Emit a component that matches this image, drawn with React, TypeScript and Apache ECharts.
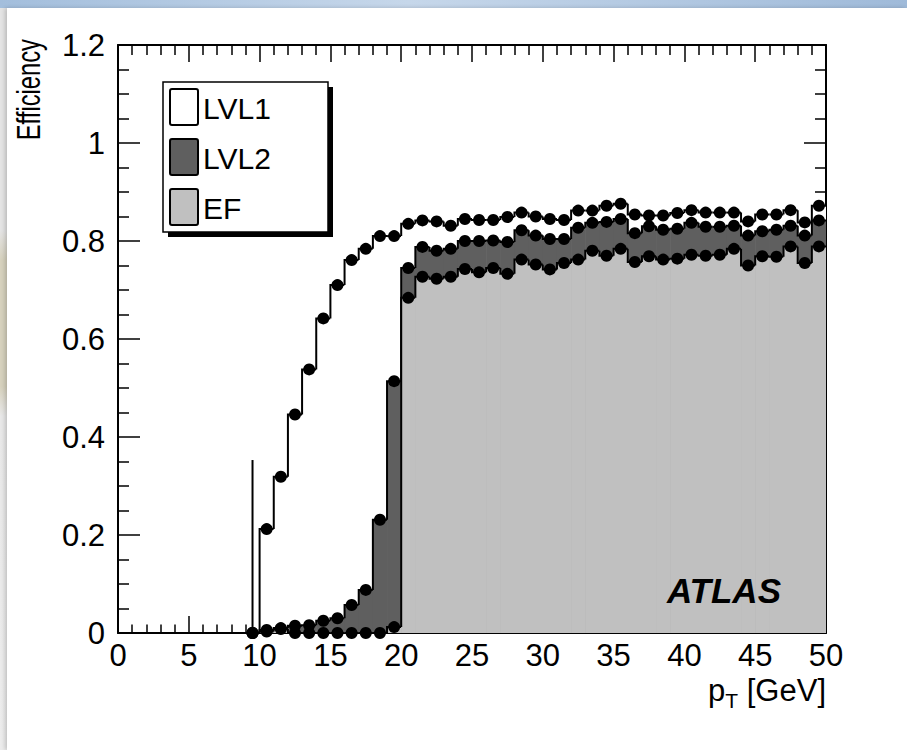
import React, { useEffect, useRef } from "react";
import * as echarts from "echarts";

// Bin edges: 50 bins of 1 GeV from 0 to 50 GeV
const binLow: number[] = Array.from({ length: 50 }, (_, i) => i);
const binWidth = 1;

// Efficiency per bin (null = empty bin, no marker)
const lvl1: (number | null)[] = [
  null, null, null, null, null, null, null, null, null, 0,
  0.212, 0.319, 0.446, 0.538, 0.642, 0.71, 0.761, 0.784, 0.81, 0.81,
  0.835, 0.842, 0.84, 0.831, 0.845, 0.843, 0.843, 0.849, 0.858, 0.85,
  0.845, 0.843, 0.862, 0.862, 0.872, 0.876, 0.854, 0.852, 0.852, 0.857,
  0.863, 0.858, 0.858, 0.858, 0.84, 0.854, 0.854, 0.863, 0.838, 0.872,
];
const lvl2: (number | null)[] = [
  null, null, null, null, null, null, null, null, null, 0,
  0.006, 0.01, 0.015, 0.016, 0.025, 0.03, 0.057, 0.088, 0.231, 0.514,
  0.745, 0.788, 0.78, 0.784, 0.8, 0.8, 0.801, 0.798, 0.822, 0.811,
  0.804, 0.804, 0.827, 0.837, 0.839, 0.845, 0.816, 0.83, 0.823, 0.825,
  0.837, 0.829, 0.829, 0.831, 0.811, 0.82, 0.823, 0.831, 0.811, 0.842,
];
const ef: (number | null)[] = [
  null, null, null, null, null, null, null, null, null, 0,
  0.003, 0.008, 0, 0, 0, 0, 0, 0, 0, 0.012,
  0.684, 0.727, 0.723, 0.727, 0.743, 0.736, 0.745, 0.733, 0.762, 0.752,
  0.742, 0.755, 0.762, 0.78, 0.77, 0.784, 0.757, 0.769, 0.762, 0.764,
  0.772, 0.77, 0.772, 0.784, 0.75, 0.769, 0.768, 0.789, 0.755, 0.789,
];
// Visible error bars: [bin centre, low, high]
const lvl1ErrorBars: number[][] = [[9.5, 0, 0.353]];

const xTicks = { min: 0, max: 50, step: 5 };
const yTicks = { min: 0, max: 1.2, step: 0.2 };

const legendItems = ["LVL1", "LVL2", "EF"];
const FONT = "'Liberation Sans', Arial, Helvetica, sans-serif";

function histData(vals: (number | null)[]) {
  return vals.map((v, i) => [
    binLow[i],
    binLow[i] + binWidth,
    v ?? 0,
    i > 0 ? vals[i - 1] ?? 0 : 0,
  ]);
}

function histSeries(vals: (number | null)[], fill: string, z: number) {
  return {
    type: "custom",
    z,
    clip: true,
    silent: true,
    data: histData(vals),
    encode: { x: [0, 1], y: [2, 3] },
    renderItem: (params: any, api: any) => {
      const lo = api.value(0);
      const hi = api.value(1);
      const v = api.value(2);
      const prev = api.value(3);
      const b = api.coord([lo, 0]);
      const t = api.coord([hi, v]);
      const pPrev = api.coord([lo, prev]);
      const pLo = api.coord([lo, v]);
      return {
        type: "group",
        children: [
          {
            type: "rect",
            shape: { x: b[0], y: t[1], width: t[0] - b[0] + 0.6, height: b[1] - t[1] },
            style: { fill },
          },
          {
            type: "polyline",
            shape: { points: [pPrev, pLo, t] },
            style: { stroke: "#000", lineWidth: 2, fill: null },
          },
        ],
      };
    },
  };
}

function markerSeries(vals: (number | null)[]) {
  const data: number[][] = [];
  vals.forEach((v, i) => {
    if (v !== null) data.push([binLow[i] + binWidth / 2, v]);
  });
  return {
    type: "scatter",
    z: 10,
    silent: true,
    symbol: "circle",
    symbolSize: 12,
    itemStyle: { color: "#000", opacity: 1 },
    data,
  };
}

const errorSeries = {
  type: "custom",
  z: 9,
  silent: true,
  data: lvl1ErrorBars,
  encode: { x: 0, y: [1, 2] },
  renderItem: (params: any, api: any) => {
    const a = api.coord([api.value(0), api.value(1)]);
    const c = api.coord([api.value(0), api.value(2)]);
    return {
      type: "line",
      shape: { x1: a[0], y1: a[1], x2: c[0], y2: c[1] },
      style: { stroke: "#000", lineWidth: 2 },
    };
  },
};

function xAxisCfg(position: "top" | "bottom", majorLen: number, minorLen: number, labels: boolean) {
  return {
    type: "value",
    position,
    min: xTicks.min,
    max: xTicks.max,
    interval: xTicks.step,
    axisLine: { show: true, onZero: false, lineStyle: { color: "#000", width: 2 } },
    axisTick: { show: true, inside: true, length: majorLen, lineStyle: { color: "#000", width: 1.5 } },
    minorTick: { show: true, splitNumber: 5, length: minorLen, lineStyle: { color: "#000", width: 1.5 } },
    splitLine: { show: false },
    axisLabel: {
      show: labels,
      color: "#000",
      fontSize: 31,
      fontFamily: FONT,
      margin: 7,
    },
  };
}

function yAxisCfg(position: "left" | "right", labels: boolean) {
  return {
    type: "value",
    position,
    min: yTicks.min,
    max: yTicks.max,
    interval: yTicks.step,
    axisLine: { show: true, onZero: false, lineStyle: { color: "#000", width: 2 } },
    axisTick: { show: true, inside: true, length: 22, lineStyle: { color: "#000", width: 1.5 } },
    minorTick: { show: true, splitNumber: 4, length: 11, lineStyle: { color: "#000", width: 1.5 } },
    splitLine: { show: false },
    axisLabel: {
      show: labels,
      color: "#000",
      fontSize: 31,
      fontFamily: FONT,
      margin: 13,
      formatter: (v: number) => String(Math.round(v * 10) / 10),
    },
  };
}

const swatchFill = ["#ffffff", "#5f5f5f", "#c0c0c0"];

function legendGraphics() {
  const box = { x: 163, y: 82, w: 165, h: 150 };
  const els: any[] = [
    { type: "rect", shape: { x: box.x + 5, y: box.y + 5, width: box.w, height: box.h }, style: { fill: "#000" }, z: 20 },
    { type: "rect", shape: { x: box.x, y: box.y, width: box.w, height: box.h }, style: { fill: "#fff", stroke: "#000", lineWidth: 1.5 }, z: 21 },
  ];
  legendItems.forEach((name, k) => {
    const top = 89 + k * 50;
    els.push({
      type: "rect",
      shape: { x: 170, y: top, width: 28, height: 36, r: 2 },
      style: { fill: swatchFill[k], stroke: "#000", lineWidth: 2 },
      z: 22,
    });
    els.push({
      type: "text",
      x: 203,
      y: top + 19,
      style: { text: name, fontSize: 30, fontFamily: FONT, fill: "#000", verticalAlign: "middle", align: "left" },
      z: 22,
    });
  });
  return els;
}

export default function App() {
  const ref = useRef<HTMLDivElement>(null);
  useEffect(() => {
    if (!ref.current) return;
    const chart = echarts.init(ref.current, null, { renderer: "svg" });
    chart.setOption({
      animation: false,
      backgroundColor: "transparent",
      grid: { left: 118, right: 81, top: 45, bottom: 117, containLabel: false },
      xAxis: [xAxisCfg("bottom", 17, 8.5, true), xAxisCfg("top", 17, 10, false)],
      yAxis: [yAxisCfg("left", true), yAxisCfg("right", false)],
      series: [
        histSeries(lvl1, "#ffffff", 2),
        histSeries(lvl2, "#5f5f5f", 3),
        histSeries(ef, "#c0c0c0", 4),
        errorSeries,
        markerSeries(lvl1),
        markerSeries(lvl2),
        markerSeries(ef),
      ],
      graphic: [
        ...legendGraphics(),
        {
          type: "text",
          x: 29,
          y: 39,
          rotation: Math.PI / 2,
          scaleX: 0.72,
          style: { text: "Efficiency", fontSize: 33, fontFamily: FONT, fill: "#000", align: "right", verticalAlign: "middle" },
        },
        {
          type: "text",
          x: 826,
          y: 690,
          style: {
            text: "{p|p}{s|T}{p| [GeV]}",
            align: "right",
            verticalAlign: "middle",
            rich: {
              p: { fontSize: 31, fontFamily: FONT, fill: "#000" },
              s: { fontSize: 21, fontFamily: FONT, fill: "#000", padding: [20, 0, 0, 0] },
            },
          },
        },
        {
          type: "text",
          x: 781,
          y: 590,
          z: 30,
          style: { text: "ATLAS", fontSize: 35, fontWeight: "bold", fontStyle: "italic", fontFamily: FONT, fill: "#000", align: "right", verticalAlign: "middle" },
        },
      ],
    });
    return () => chart.dispose();
  }, []);

  return (
    <div style={{ position: "fixed", left: 0, top: 0, width: 907, height: 750, overflow: "hidden", background: "linear-gradient(90deg, #a3bedc 0%, #c6d7ea 45%, #9fbad9 100%)" }}>
      <div style={{ position: "absolute", left: 0, top: 8, width: 8, height: 742, background: "linear-gradient(to bottom, #e4e4e4 0%, #e4e4e4 30%, #d6d1bd 34%, #d6d1bd 51%, #e8e8e8 55%, #ececec 100%)" }} />
      <div style={{ position: "absolute", left: 7, top: 8, width: 900, height: 742, background: "#fff", boxShadow: "-2px 0 4px rgba(0,0,0,0.18)" }} />
      <div ref={ref} style={{ position: "absolute", left: 0, top: 0, width: 907, height: 750 }} />
    </div>
  );
}
